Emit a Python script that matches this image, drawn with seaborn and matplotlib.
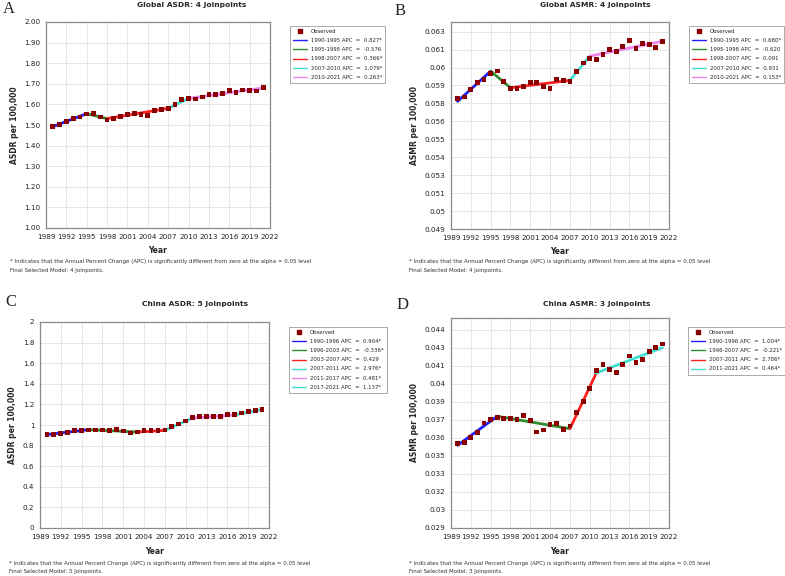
import numpy as np
import pandas as pd
import matplotlib
matplotlib.use("Agg")
import matplotlib.pyplot as plt
from matplotlib.lines import Line2D
import seaborn as sns

# -- data
years = list(range(1990, 2022))

global_asdr = [1.494, 1.503, 1.516, 1.531, 1.539, 1.553, 1.557, 1.539, 1.524, 1.532,
               1.540, 1.550, 1.555, 1.550, 1.546, 1.571, 1.574, 1.579, 1.600, 1.623,
               1.629, 1.626, 1.636, 1.647, 1.647, 1.652, 1.668, 1.659, 1.670, 1.668,
               1.665, 1.681]
global_asdr_joints = [1990, 1995, 1998, 2007, 2010, 2021]
global_asdr_fit = [1.492, 1.555, 1.531, 1.581, 1.629, 1.680]
global_asdr_apc = ["1990-1995 APC  =  0.827*", "1995-1998 APC  =  -0.576",
                   "1998-2007 APC  =  0.366*", "2007-2010 APC  =  1.079*",
                   "2010-2021 APC  =  0.263*"]

global_asmr = [0.05807, 0.05819, 0.05872, 0.05921, 0.05939, 0.05986, 0.06000, 0.05925,
               0.05877, 0.05879, 0.05891, 0.05919, 0.05921, 0.05893, 0.05877, 0.05942,
               0.05935, 0.05928, 0.05997, 0.06057, 0.06085, 0.06083, 0.06113, 0.06150,
               0.06136, 0.06171, 0.06215, 0.06157, 0.06194, 0.06187, 0.06164, 0.06208]
global_asmr_joints = [1990, 1995, 1998, 2007, 2010, 2021]
global_asmr_fit = [0.05789, 0.06000, 0.05884, 0.05935, 0.06104, 0.06208]
global_asmr_apc = ["1990-1995 APC  =  0.680*", "1995-1998 APC  =  -0.620",
                   "1998-2007 APC  =  0.091", "2007-2010 APC  =  0.931",
                   "2010-2021 APC  =  0.153*"]

china_asdr = [0.906, 0.909, 0.919, 0.929, 0.945, 0.948, 0.951, 0.951, 0.951, 0.948,
              0.955, 0.942, 0.922, 0.932, 0.945, 0.948, 0.945, 0.951, 0.984, 1.010,
              1.039, 1.071, 1.081, 1.084, 1.084, 1.084, 1.100, 1.104, 1.117, 1.129,
              1.139, 1.152]
china_asdr_joints = [1990, 1996, 2003, 2007, 2011, 2017, 2021]
china_asdr_fit = [0.907, 0.955, 0.932, 0.948, 1.068, 1.098, 1.150]
china_asdr_apc = ["1990-1996 APC  =  0.904*", "1996-2003 APC  =  -0.336*",
                  "2003-2007 APC  =  0.429", "2007-2011 APC  =  2.976*",
                  "2011-2017 APC  =  0.481*", "2017-2021 APC  =  1.137*"]

china_asmr = [0.03545, 0.03556, 0.03594, 0.03632, 0.03704, 0.03729, 0.03747, 0.03739,
              0.03739, 0.03729, 0.03760, 0.03721, 0.03635, 0.03650, 0.03691, 0.03698,
              0.03653, 0.03681, 0.03785, 0.03867, 0.03969, 0.04104, 0.04150, 0.04114,
              0.04089, 0.04153, 0.04216, 0.04168, 0.04188, 0.04249, 0.04283, 0.04308]
china_asmr_joints = [1990, 1996, 2007, 2011, 2021]
china_asmr_fit = [0.03533, 0.03755, 0.03660, 0.04086, 0.04280]
china_asmr_apc = ["1990-1996 APC  =  1.004*", "1996-2007 APC  =  -0.221*",
                  "2007-2011 APC  =  2.786*", "2011-2021 APC  =  0.464*"]

year_ticks = list(range(1989, 2023, 3))

asdr_a_ticks = [1.0, 1.1, 1.2, 1.3, 1.4, 1.5, 1.6, 1.7, 1.8, 1.9, 2.0]
asdr_a_labels = ["1.00", "1.10", "1.20", "1.30", "1.40", "1.50", "1.60", "1.70", "1.80", "1.90", "2.00"]
asmr_b_labels = ["0.049", "0.05", "0.051", "0.053", "0.054", "0.055", "0.056", "0.058",
                 "0.059", "0.06", "0.061", "0.063"]
asdr_c_ticks = [0, 0.2, 0.4, 0.6, 0.8, 1.0, 1.2, 1.4, 1.6, 1.8, 2.0]
asdr_c_labels = ["0", "0.2", "0.4", "0.6", "0.8", "1", "1.2", "1.4", "1.6", "1.8", "2"]
asmr_d_labels = ["0.029", "0.03", "0.032", "0.033", "0.035", "0.036", "0.037", "0.039",
                 "0.04", "0.041", "0.043", "0.044"]

seg_colors_4 = ["#2020ff", "#2e8b2e", "#ff2020", "#40e0d0", "#ee82ee"]
seg_colors_c = ["#2020ff", "#2e8b2e", "#ff2020", "#40e0d0", "#ee82ee", "#40e0d0"]
seg_colors_d = ["#2020ff", "#2e8b2e", "#ff2020", "#40e0d0"]
obs_color = "#8b0000"

footnote = ("* Indicates that the Annual Percent Change (APC) is significantly "
            "different from zero at the alpha = 0.05 level")

sns.set_style("whitegrid")
plt.rcParams["font.family"] = ["DejaVu Sans"]

fig = plt.figure(figsize=(7.85, 5.76), dpi=100)
W, H = 785, 576


def add_ax(l, t, r, b):
    return fig.add_axes([l / W, 1 - b / H, (r - l) / W, (b - t) / H])


def panel(ax, obs, joints, fit, apcs, colors, ylim, yticks, ylabels, ylabel,
          leg_xy):
    df = pd.DataFrame({"Year": years, "Value": obs})
    for i in range(len(joints) - 1):
        seg = pd.DataFrame({"Year": joints[i:i + 2], "Value": fit[i:i + 2]})
        sns.lineplot(data=seg, x="Year", y="Value", color=colors[i], lw=2.0,
                     ax=ax, zorder=2)
    sns.scatterplot(data=df, x="Year", y="Value", marker="s", s=12,
                    color=obs_color, edgecolor="none", ax=ax, zorder=3)
    ax.set_xlim(1989, 2022)
    ax.set_ylim(*ylim)
    ax.set_xticks(year_ticks)
    ax.set_yticks(yticks)
    ax.set_yticklabels(ylabels)
    ax.tick_params(labelsize=5.2, length=2.5, width=0.6, color="#666666",
                   pad=1.5, colors="#222222")
    ax.grid(color="#e2e2e2", lw=0.6)
    for sp in ax.spines.values():
        sp.set_color("#8a8a8a")
        sp.set_linewidth(0.9)
    ax.set_xlabel("Year", fontsize=5.5, fontweight="bold", labelpad=5)
    ax.set_ylabel(ylabel, fontsize=5.5, fontweight="bold", labelpad=4)
    handles = [Line2D([], [], ls="none", marker="s", ms=3.2, color=obs_color)]
    handles += [Line2D([], [], color=c, lw=1.0) for c in colors]
    labels = ["Observed"] + apcs
    leg = ax.legend(handles, labels, loc="upper left",
                    bbox_to_anchor=(leg_xy[0] / W, 1 - leg_xy[1] / H),
                    bbox_transform=fig.transFigure, fontsize=3.9,
                    frameon=True, fancybox=False, framealpha=1,
                    edgecolor="#aaaaaa", borderpad=0.6, labelspacing=0.75,
                    handlelength=2.6, handletextpad=0.6, borderaxespad=0)
    leg.get_frame().set_linewidth(0.7)


# A
axA = add_ax(46, 22, 270, 228)
panel(axA, global_asdr, global_asdr_joints, global_asdr_fit, global_asdr_apc,
      seg_colors_4, (1.0, 2.0), asdr_a_ticks, asdr_a_labels, "ASDR per 100,000",
      (290, 26))

# B
b_ticks = [0.049 + k * 0.00125 for k in range(12)]
axB = add_ax(451, 22, 669, 229)
panel(axB, global_asmr, global_asmr_joints, global_asmr_fit, global_asmr_apc,
      seg_colors_4, (0.049, 0.06342), b_ticks, asmr_b_labels, "ASMR per 100,000",
      (689, 26))

# C
axC = add_ax(40, 322, 269, 528)
panel(axC, china_asdr, china_asdr_joints, china_asdr_fit, china_asdr_apc,
      seg_colors_c, (0, 2), asdr_c_ticks, asdr_c_labels, "ASDR per 100,000",
      (289, 327))

# D
d_ticks = [0.029 + k * 0.00138 for k in range(12)]
axD = add_ax(451, 318, 669, 528)
panel(axD, china_asmr, china_asmr_joints, china_asmr_fit, china_asmr_apc,
      seg_colors_d, (0.029, 0.04507), d_ticks, asmr_d_labels, "ASMR per 100,000",
      (688, 327))

# titles
titles = [("Global ASDR: 4 Joinpoints", 192, 5),
          ("Global ASMR: 4 Joinpoints", 595, 5),
          ("China ASDR: 5 Joinpoints", 195, 304),
          ("China ASMR: 3 Joinpoints", 597, 304)]
for t, x, y in titles:
    fig.text(x / W, 1 - y / H, t, fontsize=5.4, fontweight="bold",
             ha="center", va="center")

# panel letters
for letter, x, y in [("A", 3, 9), ("B", 395, 11), ("C", 5, 302), ("D", 397, 305)]:
    fig.text(x / W, 1 - y / H, letter, fontsize=12, family="Liberation Serif",
             ha="left", va="center")

# footnotes
notes = [(10, 262, "Final Selected Model: 4 Joinpoints."),
         (409, 262, "Final Selected Model: 4 Joinpoints."),
         (9, 563, "Final Selected Model: 5 Joinpoints."),
         (409, 563, "Final Selected Model: 3 Joinpoints.")]
for x, y, second in notes:
    fig.text(x / W, 1 - y / H, footnote, fontsize=4.0, color="#333333",
             ha="left", va="center")
    fig.text(x / W, 1 - (y + 8.5) / H, second, fontsize=4.0, color="#333333",
             ha="left", va="center")

plt.savefig("out.png", dpi=100)
